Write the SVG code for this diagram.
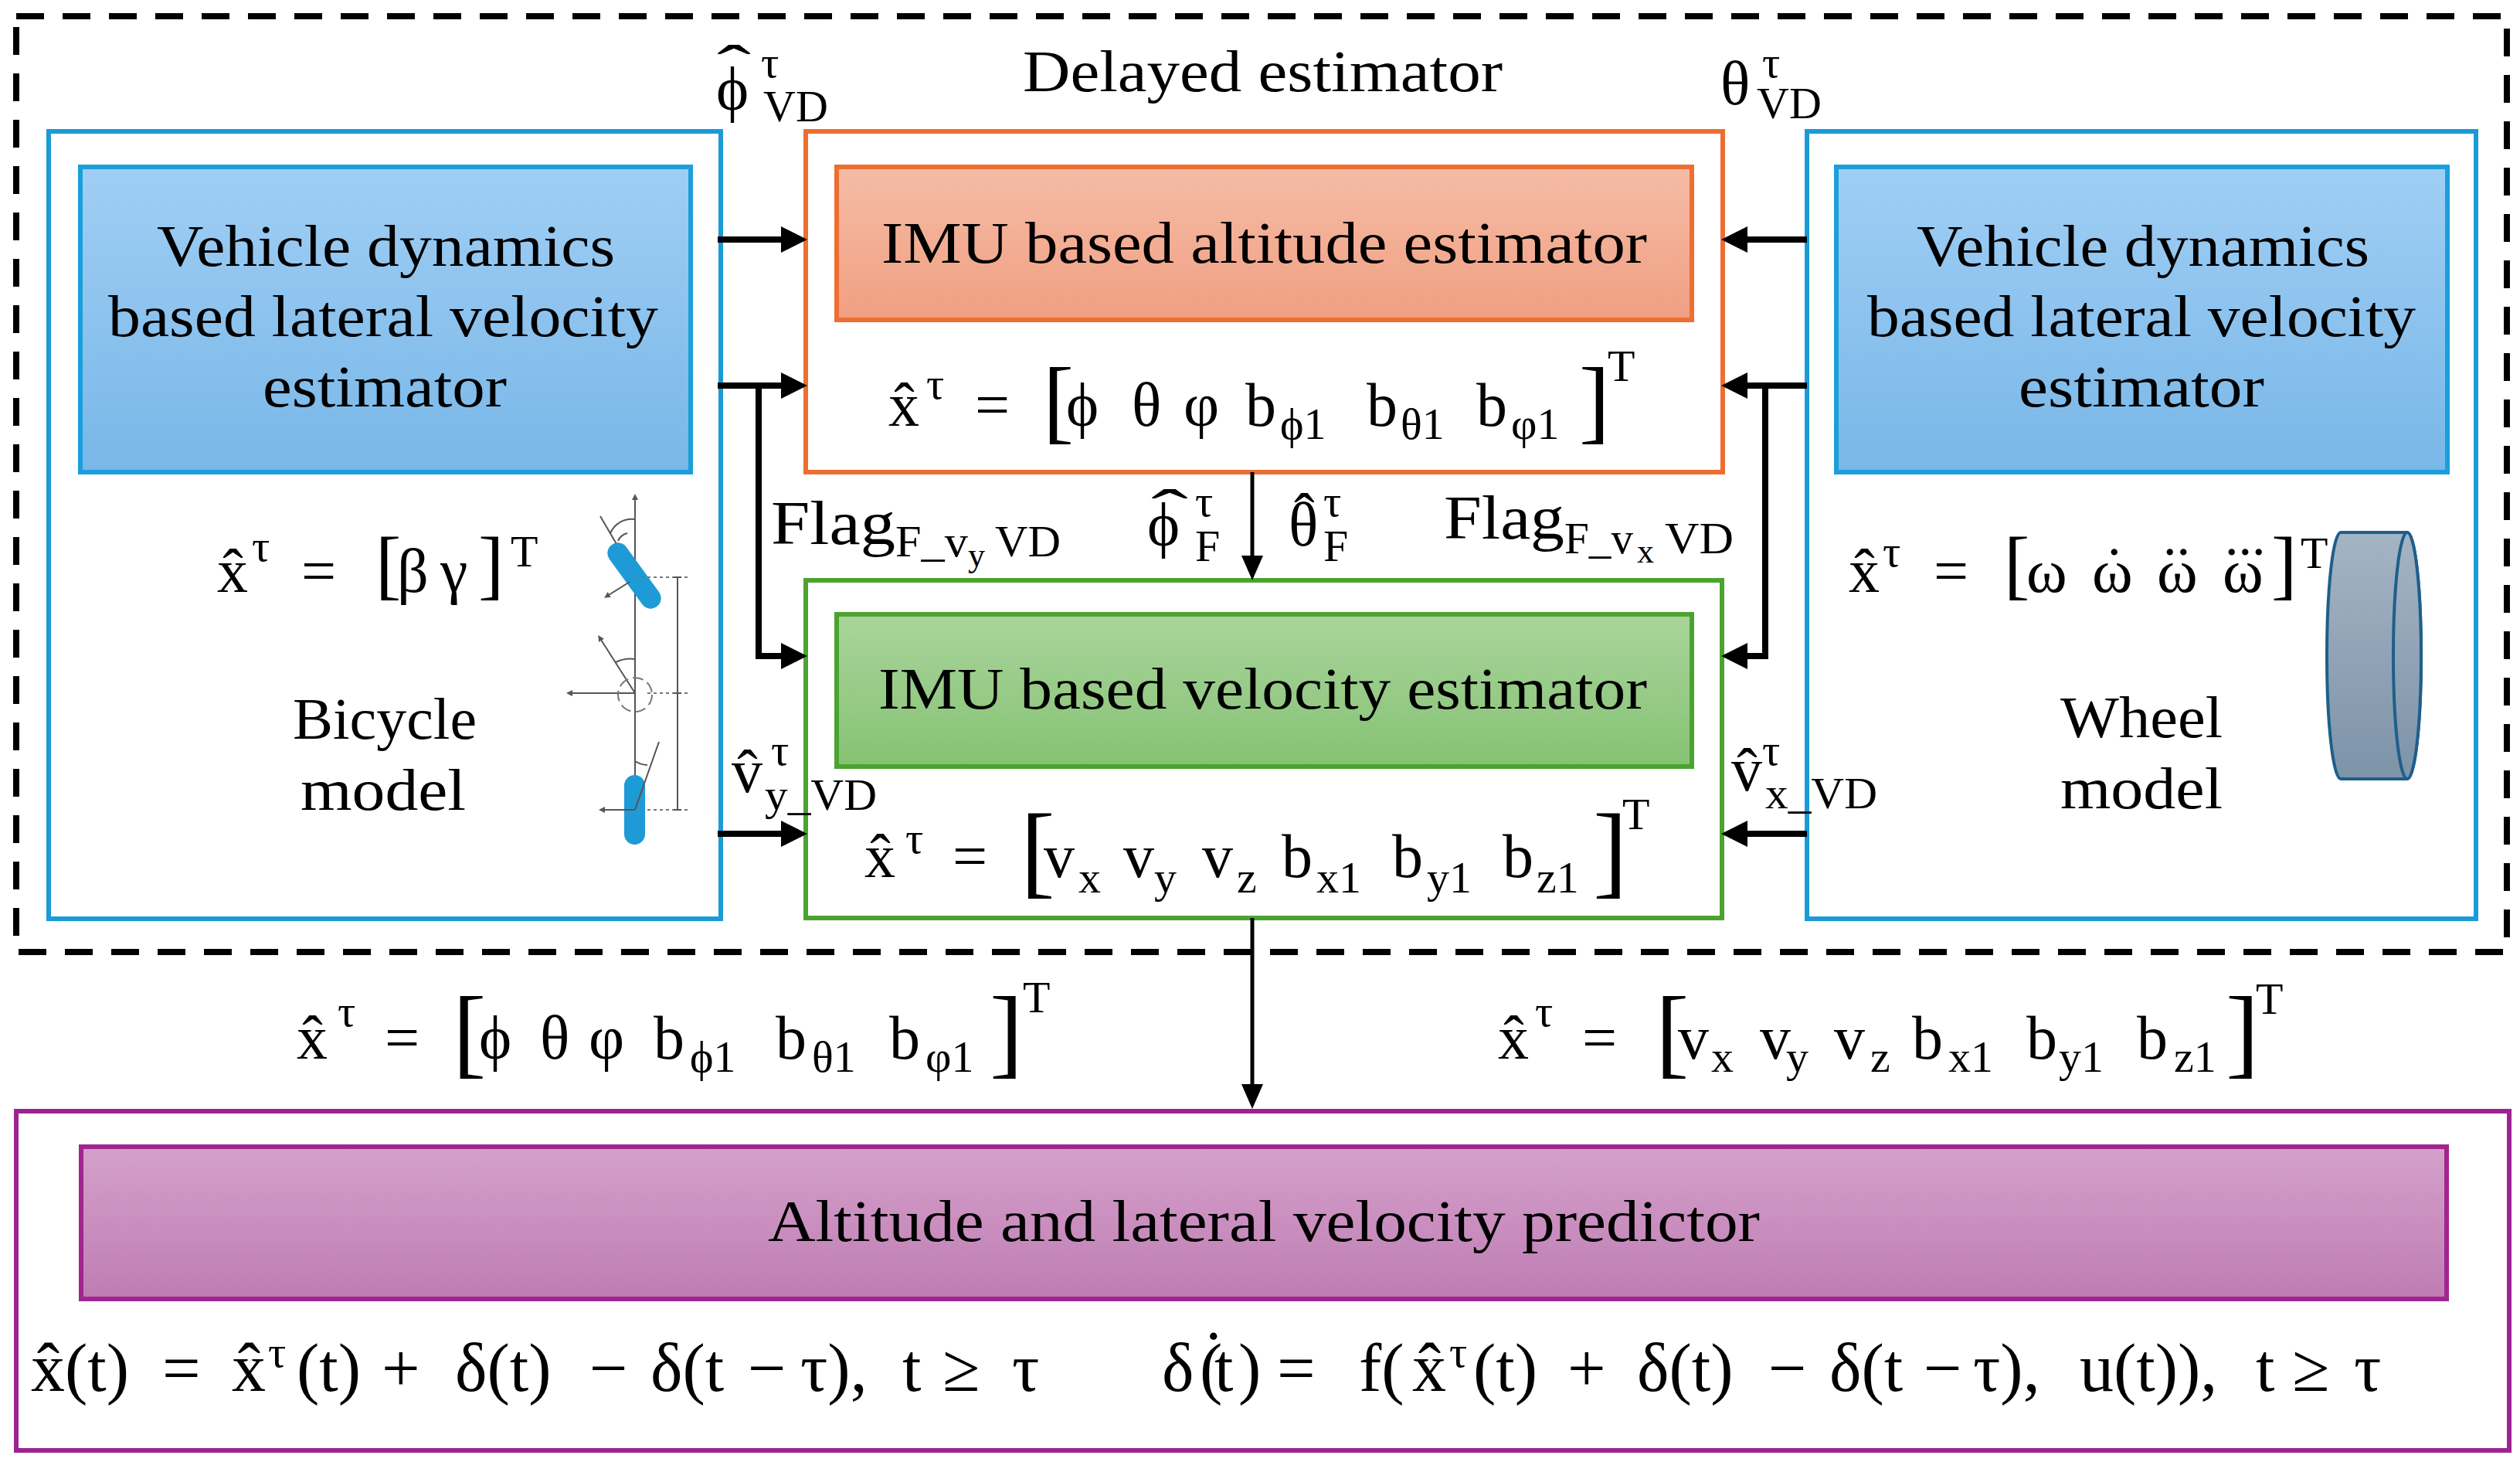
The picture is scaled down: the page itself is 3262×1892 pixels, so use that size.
<svg xmlns="http://www.w3.org/2000/svg" width="3262" height="1892" viewBox="0 0 3262 1892">
<defs>
<linearGradient id="gBlue" x1="0" y1="0" x2="0" y2="1"><stop offset="0" stop-color="#a0cef4"/><stop offset="1" stop-color="#78b7e8"/></linearGradient>
<linearGradient id="gOrange" x1="0" y1="0" x2="0" y2="1"><stop offset="0" stop-color="#f5bca6"/><stop offset="1" stop-color="#f09f82"/></linearGradient>
<linearGradient id="gGreen" x1="0" y1="0" x2="0" y2="1"><stop offset="0" stop-color="#a9d49b"/><stop offset="1" stop-color="#86c274"/></linearGradient>
<linearGradient id="gPurple" x1="0" y1="0" x2="0" y2="1"><stop offset="0" stop-color="#d4a0ca"/><stop offset="1" stop-color="#bf7db3"/></linearGradient>
<linearGradient id="gWheel" x1="0" y1="0" x2="0" y2="1"><stop offset="0" stop-color="#a4b4c4"/><stop offset="1" stop-color="#7d93a8"/></linearGradient>
<marker id="ah" markerUnits="userSpaceOnUse" markerWidth="34" markerHeight="34" viewBox="0 0 32 32" refX="1" refY="16" orient="auto"><path d="M0,0 L32,16 L0,32 Z" fill="#000"/></marker>
<marker id="ahs" markerUnits="userSpaceOnUse" markerWidth="32" markerHeight="28" viewBox="0 0 32 28" refX="1" refY="14" orient="auto"><path d="M0,0 L32,14 L0,28 Z" fill="#000"/></marker>
<marker id="tiny" markerUnits="userSpaceOnUse" markerWidth="8" markerHeight="8" viewBox="0 0 8 8" refX="1" refY="4" orient="auto"><path d="M0,0 L8,4 L0,8 Z" fill="#555"/></marker>
</defs>
<style>
.f{font-family:"Liberation Serif","Times New Roman",serif;fill:#000}
.L{font-size:76px}
.M{font-size:80px}
.S{font-size:58px}
.SS{font-size:44px}
.E{font-size:88px}
.thick{fill:none;stroke:#000;stroke-width:8}
.thin{fill:none;stroke:#000;stroke-width:5}
.bk{fill:none;stroke:#555;stroke-width:2}
.dot{fill:none;stroke:#777;stroke-width:2;stroke-dasharray:4 4}
.cap{fill:#1e9bd7}
</style>
<rect width="3262" height="1892" fill="#fff"/>

<g id="delayed-estimator">
<rect x="21" y="21" width="3224" height="1211" fill="none" stroke="#000" stroke-width="8" stroke-dasharray="36 24"/>
<text class="f L" x="1324" y="118" textLength="621" lengthAdjust="spacingAndGlyphs">Delayed estimator</text>
</g>

<g id="vd-left">
<rect x="63" y="170" width="870" height="1019" fill="#fff" stroke="#1a9bd7" stroke-width="6"/>
<rect x="104" y="216" width="790" height="395" fill="url(#gBlue)" stroke="#1a9fdb" stroke-width="6"/>
<text class="f L" x="203" y="344" textLength="593" lengthAdjust="spacingAndGlyphs">Vehicle dynamics</text>
<text class="f L" x="140" y="435" textLength="712" lengthAdjust="spacingAndGlyphs">based lateral velocity</text>
<text class="f L" x="340" y="526" textLength="316" lengthAdjust="spacingAndGlyphs">estimator</text>
<text class="f">
<tspan class="M" x="281" y="766">x̂</tspan><tspan class="S" x="326" y="726">τ</tspan><tspan class="M" x="390" y="766">=</tspan><tspan font-size="100" x="486" y="764">[</tspan><tspan class="M" x="514" y="766">β</tspan><tspan class="M" x="570" y="766">γ</tspan><tspan font-size="100" x="619" y="764">]</tspan><tspan class="S" x="661" y="733">T</tspan>
</text>
<text class="f L" x="379" y="956" textLength="238" lengthAdjust="spacingAndGlyphs">Bicycle</text>
<text class="f L" x="389" y="1048" textLength="214" lengthAdjust="spacingAndGlyphs">model</text>
<g id="bicycle-figure">
<path class="bk" d="M822 1093 V646" marker-end="url(#tiny)"/>
<path class="bk" d="M822 745 L777 668"/>
<path class="bk" d="M790 690 A 30 30 0 0 1 822 672"/>
<path class="bk" d="M800 700 A 18 18 0 0 1 812 690"/>
<rect class="cap" x="-49.5" y="-13.5" width="99" height="27" rx="13.5" transform="translate(821,745) rotate(54)"/>
<path class="bk" d="M815 753 L788 770" marker-end="url(#tiny)"/>
<path class="dot" d="M822 747 H890 M838 897 H893 M822 1048 H890"/>
<path class="bk" d="M877 747 V1048 M872 747 H882 M872 897 H882 M872 1048 H882"/>
<path class="bk" d="M822 897 H740" marker-end="url(#tiny)"/>
<path class="bk" d="M822 897 L778 828" marker-end="url(#tiny)"/>
<path class="bk" d="M797 857 A 42 42 0 0 1 822 853"/>
<circle cx="822" cy="899" r="22" fill="none" stroke="#777" stroke-width="2" stroke-dasharray="14 6"/>
<rect class="cap" x="808" y="1003" width="27" height="90" rx="13.5"/>
<path class="bk" d="M822 1048 L853 960"/>
<path class="bk" d="M822 985 A 30 30 0 0 0 838 990"/>
<path class="bk" d="M822 1048 H782" marker-end="url(#tiny)"/>
</g>
</g>

<g id="vd-right">
<rect x="2339" y="170" width="866" height="1019" fill="#fff" stroke="#1a9bd7" stroke-width="6"/>
<rect x="2377" y="216" width="791" height="395" fill="url(#gBlue)" stroke="#1a9fdb" stroke-width="6"/>
<text class="f L" x="2481" y="344" textLength="586" lengthAdjust="spacingAndGlyphs">Vehicle dynamics</text>
<text class="f L" x="2417" y="435" textLength="710" lengthAdjust="spacingAndGlyphs">based lateral velocity</text>
<text class="f L" x="2613" y="526" textLength="318" lengthAdjust="spacingAndGlyphs">estimator</text>
<text class="f">
<tspan class="M" x="2393" y="766">x̂</tspan><tspan class="S" x="2437" y="733">τ</tspan><tspan class="M" x="2503" y="766">=</tspan><tspan font-size="100" x="2594" y="764">[</tspan><tspan class="M" x="2623" y="766">ω</tspan><tspan class="M" x="2708" y="766">ω</tspan><tspan font-size="70" x="2728" y="718">.</tspan><tspan class="M" x="2792" y="766">ω</tspan><tspan font-size="70" x="2800" y="718">..</tspan><tspan class="M" x="2877" y="766">ω</tspan><tspan font-size="70" x="2880" y="718">...</tspan><tspan font-size="100" x="2940" y="764">]</tspan><tspan class="S" x="2978" y="735">T</tspan>
</text>
<text class="f L" x="2667" y="954" textLength="210" lengthAdjust="spacingAndGlyphs">Wheel</text>
<text class="f L" x="2667" y="1046" textLength="210" lengthAdjust="spacingAndGlyphs">model</text>
<g id="wheel-figure">
<path d="M3030 689 L3116 689 A18 159.5 0 0 1 3116 1008 L3030 1008 A18 159.5 0 0 1 3030 689 Z" fill="url(#gWheel)" stroke="#1e5f8a" stroke-width="4"/>
<ellipse cx="3116" cy="848.5" rx="18" ry="159.5" fill="url(#gWheel)" stroke="#1e5f8a" stroke-width="4"/>
</g>
</g>

<g id="altitude-estimator">
<rect x="1043" y="170" width="1187" height="441" fill="#fff" stroke="#ed6e30" stroke-width="6"/>
<rect x="1083" y="216" width="1107" height="198" fill="url(#gOrange)" stroke="#ed6e30" stroke-width="6"/>
<text class="f L" x="1141" y="340" textLength="991" lengthAdjust="spacingAndGlyphs">IMU based altitude estimator</text>
<text class="f">
<tspan class="M" x="1150" y="551">x̂</tspan><tspan class="S" x="1199" y="516">τ</tspan><tspan class="M" x="1262" y="551">=</tspan><tspan font-size="120" x="1350" y="559">[</tspan><tspan class="M" x="1380" y="551">ϕ</tspan><tspan class="M" x="1465" y="551">θ</tspan><tspan class="M" x="1532" y="551">φ</tspan><tspan class="M" x="1612" y="551">b</tspan><tspan class="S" x="1657" y="568">ϕ1</tspan><tspan class="M" x="1769" y="551">b</tspan><tspan class="S" x="1813" y="568">θ1</tspan><tspan class="M" x="1911" y="551">b</tspan><tspan class="S" x="1956" y="568">φ1</tspan><tspan font-size="120" x="2044" y="559">]</tspan><tspan class="S" x="2081" y="493">T</tspan>
</text>
</g>

<g id="velocity-estimator">
<rect x="1043" y="751" width="1186" height="437" fill="#fff" stroke="#4ba32f" stroke-width="6"/>
<rect x="1083" y="795" width="1107" height="197" fill="url(#gGreen)" stroke="#4ba32f" stroke-width="6"/>
<text class="f L" x="1137" y="917" textLength="995" lengthAdjust="spacingAndGlyphs">IMU based velocity estimator</text>
<text class="f">
<tspan class="M" x="1119" y="1135">x̂</tspan><tspan class="S" x="1172" y="1104">τ</tspan><tspan class="M" x="1233" y="1135">=</tspan><tspan font-size="134" x="1321" y="1145">[</tspan><tspan class="M" x="1351" y="1135">v</tspan><tspan class="S" x="1396" y="1155">x</tspan><tspan class="M" x="1454" y="1135">v</tspan><tspan class="S" x="1494" y="1155">y</tspan><tspan class="M" x="1556" y="1135">v</tspan><tspan class="S" x="1601" y="1155">z</tspan><tspan class="M" x="1659" y="1135">b</tspan><tspan class="S" x="1704" y="1155">x1</tspan><tspan class="M" x="1802" y="1135">b</tspan><tspan class="S" x="1847" y="1155">y1</tspan><tspan class="M" x="1945" y="1135">b</tspan><tspan class="S" x="1989" y="1155">z1</tspan><tspan font-size="134" x="2062" y="1145">]</tspan><tspan class="S" x="2100" y="1073">T</tspan>
</text>
</g>

<g id="predictor">
<rect x="21" y="1438" width="3227" height="439" fill="#fff" stroke="#9c2491" stroke-width="6"/>
<rect x="105" y="1484" width="3062" height="197" fill="url(#gPurple)" stroke="#a0258f" stroke-width="6"/>
<text class="f L" x="994" y="1606" textLength="1284" lengthAdjust="spacingAndGlyphs">Altitude and lateral velocity predictor</text>
<text class="f">
<tspan class="E" x="40" y="1800">x̂</tspan><tspan class="E" x="84" y="1800">(t)</tspan><tspan class="E" x="210" y="1800">=</tspan><tspan class="E" x="300" y="1800">x̂</tspan><tspan class="S" x="347" y="1769">τ</tspan><tspan class="E" x="384" y="1800">(t)</tspan><tspan class="E" x="494" y="1800">+</tspan><tspan class="E" x="589" y="1800">δ(t)</tspan><tspan class="E" x="763" y="1800">−</tspan><tspan class="E" x="842" y="1800">δ(t</tspan><tspan class="E" x="968" y="1800">−</tspan><tspan class="E" x="1036" y="1800">τ),</tspan><tspan class="E" x="1168" y="1800">t</tspan><tspan class="E" x="1220" y="1800">≥</tspan><tspan class="E" x="1310" y="1800">τ</tspan>
</text>
<text class="f">
<tspan class="E" x="1504" y="1800">δ</tspan><tspan class="E" x="1553" y="1800">(</tspan><tspan class="E" x="1556" y="1784">˙</tspan><tspan class="E" x="1572" y="1800">t</tspan><tspan class="E" x="1603" y="1800">)</tspan><tspan class="E" x="1653" y="1800">=</tspan><tspan class="E" x="1759" y="1800">f(</tspan><tspan class="E" x="1828" y="1800">x̂</tspan><tspan class="S" x="1876" y="1769">τ</tspan><tspan class="E" x="1907" y="1800">(t)</tspan><tspan class="E" x="2029" y="1800">+</tspan><tspan class="E" x="2119" y="1800">δ(t)</tspan><tspan class="E" x="2289" y="1800">−</tspan><tspan class="E" x="2368" y="1800">δ(t</tspan><tspan class="E" x="2490" y="1800">−</tspan><tspan class="E" x="2554" y="1800">τ),</tspan><tspan class="E" x="2692" y="1800">u(t)),</tspan><tspan class="E" x="2920" y="1800">t</tspan><tspan class="E" x="2967" y="1800">≥</tspan><tspan class="E" x="3047" y="1800">τ</tspan>
</text>
</g>

<g id="connectors">
<path class="thick" d="M929 310 H1012" marker-end="url(#ah)"/>
<path class="thick" d="M929 499 H1012" marker-end="url(#ah)"/>
<path class="thick" d="M982 499 V849 H1012" marker-end="url(#ah)" stroke-width="7"/>
<path class="thick" d="M929 1079 H1012" marker-end="url(#ah)"/>
<path class="thick" d="M2339 310 H2261" marker-end="url(#ah)"/>
<path class="thick" d="M2339 499 H2261" marker-end="url(#ah)"/>
<path class="thick" d="M2285 499 V849 H2261" marker-end="url(#ah)" stroke-width="7"/>
<path class="thick" d="M2339 1079 H2261" marker-end="url(#ah)"/>
<path class="thin" d="M1621 611 V720" marker-end="url(#ahs)"/>
<path class="thin" d="M1621 1188 V1404" marker-end="url(#ahs)"/>
</g>

<g id="connector-labels">
<text class="f"><tspan class="M" x="927" y="142">ϕ</tspan><tspan class="M" x="928" y="114" textLength="44" lengthAdjust="spacingAndGlyphs">ˆ</tspan><tspan class="S" x="985" y="100">τ</tspan><tspan class="S" x="988" y="157">VD</tspan></text>
<text class="f"><tspan class="M" x="2227" y="135">θ</tspan><tspan class="S" x="2281" y="100">τ</tspan><tspan class="S" x="2274" y="153">VD</tspan></text>
<text class="f"><tspan class="M" x="998" y="704" textLength="161" lengthAdjust="spacingAndGlyphs">Flag</tspan><tspan class="S" x="1159" y="720" textLength="94" lengthAdjust="spacingAndGlyphs">F_v</tspan><tspan class="SS" x="1253" y="733">y</tspan><tspan class="S" x="1288" y="720" textLength="85" lengthAdjust="spacingAndGlyphs">VD</tspan></text>
<text class="f"><tspan class="M" x="1869" y="697" textLength="156" lengthAdjust="spacingAndGlyphs">Flag</tspan><tspan class="S" x="2025" y="716" textLength="89" lengthAdjust="spacingAndGlyphs">F_v</tspan><tspan class="SS" x="2119" y="728">x</tspan><tspan class="S" x="2155" y="716" textLength="89" lengthAdjust="spacingAndGlyphs">VD</tspan></text>
<text class="f"><tspan class="M" x="1485" y="706">ϕ</tspan><tspan class="M" x="1490" y="689" textLength="48" lengthAdjust="spacingAndGlyphs">ˆ</tspan><tspan class="S" x="1547" y="668">τ</tspan><tspan class="S" x="1547" y="726">F</tspan></text>
<text class="f"><tspan class="M" x="1668" y="706">θ</tspan><tspan class="M" x="1675" y="694">ˆ</tspan><tspan class="S" x="1713" y="668">τ</tspan><tspan class="S" x="1713" y="726">F</tspan></text>
<text class="f"><tspan class="M" x="947" y="1025">v̂</tspan><tspan class="S" x="998" y="990">τ</tspan><tspan class="S" x="990" y="1048" textLength="145" lengthAdjust="spacingAndGlyphs">y_VD</tspan></text>
<text class="f"><tspan class="M" x="2241" y="1023">v̂</tspan><tspan class="S" x="2281" y="990">τ</tspan><tspan class="S" x="2285" y="1046" textLength="145" lengthAdjust="spacingAndGlyphs">x_VD</tspan></text>
<text class="f">
<tspan class="M" x="384" y="1370">x̂</tspan><tspan class="S" x="437" y="1328">τ</tspan><tspan class="M" x="498" y="1370">=</tspan><tspan font-size="130" x="586" y="1379">[</tspan><tspan class="M" x="620" y="1370">ϕ</tspan><tspan class="M" x="699" y="1370">θ</tspan><tspan class="M" x="762" y="1370">φ</tspan><tspan class="M" x="846" y="1370">b</tspan><tspan class="S" x="893" y="1387">ϕ1</tspan><tspan class="M" x="1004" y="1370">b</tspan><tspan class="S" x="1051" y="1387">θ1</tspan><tspan class="M" x="1151" y="1370">b</tspan><tspan class="S" x="1198" y="1387">φ1</tspan><tspan font-size="130" x="1281" y="1379">]</tspan><tspan class="S" x="1324" y="1310">T</tspan>
</text>
<text class="f">
<tspan class="M" x="1939" y="1370">x̂</tspan><tspan class="S" x="1987" y="1328">τ</tspan><tspan class="M" x="2048" y="1370">=</tspan><tspan font-size="130" x="2143" y="1379">[</tspan><tspan class="M" x="2172" y="1370">v</tspan><tspan class="S" x="2215" y="1387">x</tspan><tspan class="M" x="2278" y="1370">v</tspan><tspan class="S" x="2312" y="1387">y</tspan><tspan class="M" x="2374" y="1370">v</tspan><tspan class="S" x="2421" y="1387">z</tspan><tspan class="M" x="2475" y="1370">b</tspan><tspan class="S" x="2522" y="1387">x1</tspan><tspan class="M" x="2623" y="1370">b</tspan><tspan class="S" x="2665" y="1387">y1</tspan><tspan class="M" x="2766" y="1370">b</tspan><tspan class="S" x="2814" y="1387">z1</tspan><tspan font-size="130" x="2881" y="1379">]</tspan><tspan class="S" x="2920" y="1312">T</tspan>
</text>
</g>
</svg>
